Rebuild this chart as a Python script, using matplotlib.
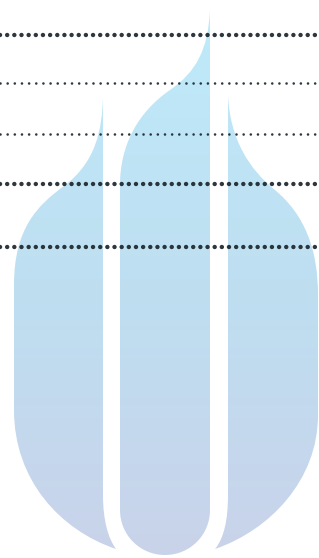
import numpy as np
import matplotlib.pyplot as plt
from matplotlib.path import Path
from matplotlib.patches import PathPatch
from matplotlib.colors import LinearSegmentedColormap

# renglones punteados (posicion vertical en px y grosor)
line_y = [35, 83, 134, 184, 247]
line_kind = ["grueso", "fino", "fino", "grueso", "grueso"]

# degradado del logo, de arriba hacia abajo
grad_colors = ["#bfebfa", "#bedff1", "#c9d3ea"]

# contornos de las tres llamas (coordenadas de imagen, y hacia abajo)
M, L, C = Path.MOVETO, Path.LINETO, Path.CURVE4

left_verts = [(103, 97), (103, 495),
              (103, 520), (108, 538), (116, 549),
              (60, 530), (14, 480), (14, 410),
              (14, 285),
              (14, 228), (38, 205), (64, 186),
              (96, 162), (102, 130), (103, 97)]
left_codes = [M, L, C, C, C, C, C, C, L, C, C, C, C, C, C]

mid_verts = [(210, 10), (210, 510),
             (210, 535), (190, 555), (165, 555),
             (140, 555), (120, 535), (120, 510),
             (120, 185),
             (120, 145), (138, 112), (170, 90),
             (196, 72), (208, 50), (210, 10)]
mid_codes = [M, L, C, C, C, C, C, C, L, C, C, C, C, C, C]

right_verts = [(228, 95),
               (230, 140), (250, 170), (275, 190),
               (305, 215), (318, 250), (318, 295),
               (318, 415),
               (318, 480), (270, 530), (215, 549),
               (224, 538), (228, 520), (228, 495),
               (228, 95)]
right_codes = [M, C, C, C, C, C, C, L, C, C, C, C, C, C, L]

W, H = 319, 558
fig = plt.figure(figsize=(W / 100, H / 100), dpi=100)
ax = fig.add_axes([0, 0, 1, 1])
ax.set_xlim(0, W)
ax.set_ylim(H, 0)
ax.axis("off")

cmap = LinearSegmentedColormap.from_list("logo", grad_colors)
grad = np.linspace(0, 1, 256).reshape(-1, 1)

for verts, codes in [(left_verts, left_codes), (mid_verts, mid_codes), (right_verts, right_codes)]:
    patch = PathPatch(Path(verts, codes), facecolor="none", edgecolor="none")
    ax.add_patch(patch)
    im = ax.imshow(grad, cmap=cmap, extent=[0, W, H, 0], aspect="auto", interpolation="bilinear")
    im.set_clip_path(patch)

# renglones de puntos
for y, kind in zip(line_y, line_kind):
    if kind == "grueso":
        lw, gap = 3.2, 1.6
    else:
        lw, gap = 1.9, 2.7
    ax.axhline(y, color="#1c262d", alpha=0.92, linewidth=lw,
               linestyle=(0, (0.01, gap)), dash_capstyle="round", zorder=5)

fig.savefig("out.png", dpi=100)
